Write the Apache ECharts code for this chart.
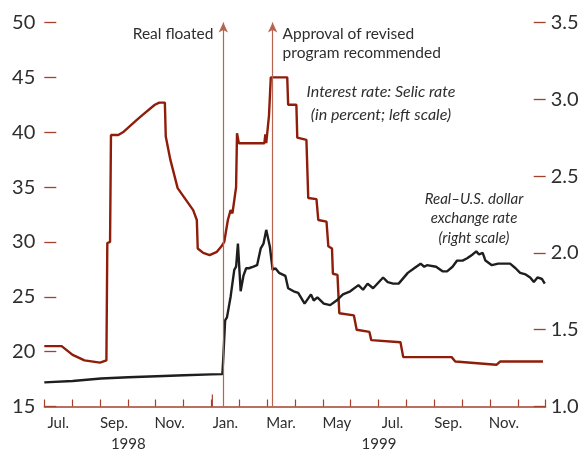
<!DOCTYPE html>
<html>
<head>
<meta charset="utf-8">
<script src="https://cdn.jsdelivr.net/npm/echarts@6.0.0/dist/echarts.min.js"></script>
<style>
html, body { margin: 0; padding: 0; background: #fff; }
#chart { width: 581px; height: 451px; }
</style>
</head>
<body>
<div id="chart"></div>
<script>
// month labels along the bottom (Jul 1998 - Dec 1999)
const monthLabels = ['Jul.', 'Aug.', 'Sep.', 'Oct.', 'Nov.', 'Dec.', 'Jan.', 'Feb.', 'Mar.', 'Apr.', 'May', 'Jun.',
	'Jul.', 'Aug.', 'Sep.', 'Oct.', 'Nov.', 'Dec.']
const yearLabels = ['1998', '1999']
const yearSpans = [['1998-07-01', '1999-01-01'], ['1999-01-01', '2000-01-01']]

// Selic rate, percent (left scale)
const selicDates = ['1998-07-01', '1998-07-20', '1998-08-01', '1998-08-14', '1998-08-31', '1998-09-07', '1998-09-08',
	'1998-09-11', '1998-09-12', '1998-09-20', '1998-09-26', '1998-10-10', '1998-10-17', '1998-10-30', '1998-11-04',
	'1998-11-10', '1998-11-11', '1998-11-16', '1998-11-24', '1998-12-11', '1998-12-15', '1998-12-16', '1998-12-22',
	'1998-12-29', '1999-01-06', '1999-01-11', '1999-01-14', '1999-01-18', '1999-01-21', '1999-01-23', '1999-01-25',
	'1999-01-27', '1999-01-28', '1999-01-30', '1999-02-27', '1999-02-28', '1999-03-01', '1999-03-04', '1999-03-06',
	'1999-03-24', '1999-03-25', '1999-04-03', '1999-04-04', '1999-04-14', '1999-04-16', '1999-04-25', '1999-04-27',
	'1999-05-06', '1999-05-08', '1999-05-12', '1999-05-13', '1999-05-18', '1999-05-20', '1999-06-05', '1999-06-08',
	'1999-06-22', '1999-06-24', '1999-07-26', '1999-07-29', '1999-09-20', '1999-09-24', '1999-11-08', '1999-11-12',
	'1999-12-29']
const selicValues = [20.5, 20.5, 19.7, 19.2, 19.0, 19.2, 29.9,
	30.0, 39.75, 39.75, 40.05, 41.1, 41.6, 42.5, 42.7,
	42.7, 39.6, 37.5, 34.9, 32.9, 32.0, 29.4, 29.0,
	28.8, 29.1, 29.6, 30.0, 32.0, 32.9, 32.6, 33.8,
	35.0, 39.9, 39.0, 39.0, 39.8, 39.0, 41.5, 45.0,
	45.0, 42.5, 42.5, 39.5, 39.3, 34.0, 33.9, 32.0,
	31.85, 29.6, 29.4, 27.1, 27.0, 23.5, 23.3, 22.0,
	21.8, 21.05, 20.85, 19.5, 19.5, 19.1, 18.8, 19.1,
	19.1]

// real per U.S. dollar (right scale)
const fxDates = ['1998-07-01', '1998-08-01', '1998-09-01', '1998-10-01', '1998-11-01', '1998-12-01', '1998-12-31',
	'1999-01-12', '1999-01-13', '1999-01-15', '1999-01-17', '1999-01-21', '1999-01-25', '1999-01-27', '1999-01-29',
	'1999-02-01', '1999-02-04', '1999-02-07', '1999-02-10', '1999-02-15', '1999-02-19', '1999-02-23', '1999-02-26',
	'1999-03-01', '1999-03-02', '1999-03-03', '1999-03-05', '1999-03-08', '1999-03-11', '1999-03-15', '1999-03-22',
	'1999-03-25', '1999-03-31', '1999-04-05', '1999-04-12', '1999-04-19', '1999-04-22', '1999-04-26', '1999-05-03',
	'1999-05-10', '1999-05-17', '1999-05-24', '1999-06-01', '1999-06-10', '1999-06-15', '1999-06-20', '1999-06-26',
	'1999-07-07', '1999-07-12', '1999-07-18', '1999-07-24', '1999-08-03', '1999-08-10', '1999-08-17', '1999-08-21',
	'1999-08-24', '1999-09-03', '1999-09-10', '1999-09-15', '1999-09-21', '1999-09-26', '1999-10-02', '1999-10-07',
	'1999-10-13', '1999-10-17', '1999-10-20', '1999-10-24', '1999-10-27', '1999-11-03', '1999-11-10', '1999-11-23',
	'1999-11-29', '1999-12-04', '1999-12-10', '1999-12-15', '1999-12-19', '1999-12-23', '1999-12-28', '1999-12-31']
const fxValues = [1.157, 1.166, 1.182, 1.19, 1.197, 1.203, 1.209,
	1.211, 1.32, 1.56, 1.58, 1.715, 1.89, 1.91, 2.06,
	1.75, 1.85, 1.9, 1.9, 1.91, 1.92, 2.03, 2.06,
	2.15, 2.16, 2.14, 2.04, 1.89, 1.9, 1.87, 1.85,
	1.77, 1.75, 1.74, 1.67, 1.73, 1.69, 1.71, 1.67,
	1.66, 1.69, 1.73, 1.75, 1.79, 1.76, 1.8, 1.77,
	1.84, 1.81, 1.8, 1.8, 1.87, 1.9, 1.93, 1.91,
	1.92, 1.91, 1.88, 1.88, 1.91, 1.95, 1.95, 1.965,
	1.99, 2.01, 1.99, 2.0, 1.95, 1.92, 1.93, 1.93,
	1.9, 1.87, 1.86, 1.84, 1.81, 1.84, 1.83, 1.8]

// event markers
const eventDates = ['1999-01-13', '1999-03-08']

const RED = '#8e1d0a'
const AXIS_RED = '#a3412d'
const MARK = '#b5644f'
const FONT = 'Lato, "DejaVu Sans", sans-serif'

const t = s => new Date(s + 'T00:00:00').getTime()

const chart = echarts.init(document.getElementById('chart'))

const options = {
	animation: false,
	backgroundColor: '#fff',
	grid: {
		left: 44.3,
		right: 35.3,
		top: 22.5,
		bottom: 44.5,
		containLabel: false,
		outerBoundsMode: 'none'
	},
	xAxis: [
		{
			type: 'time',
			min: t('1998-07-01'),
			max: t('2000-01-01'),
			show: false
		},
		{
			type: 'category',
			position: 'bottom',
			data: monthLabels,
			boundaryGap: true,
			axisLine: { show: true, lineStyle: { color: AXIS_RED, width: 1.5 } },
			axisTick: { show: true, inside: true, length: 7, interval: 0, lineStyle: { color: AXIS_RED, width: 1.2 } },
			axisLabel: { interval: 1, margin: 9, color: '#2e2e2e', fontSize: 15, fontFamily: FONT },
			splitLine: { show: false }
		}
	],
	yAxis: [
		{
			type: 'value',
			position: 'left',
			min: 15,
			max: 50,
			interval: 5,
			axisLine: { show: false },
			axisTick: { show: true, inside: true, length: 12, lineStyle: { color: AXIS_RED, width: 1.3 } },
			axisLabel: { margin: 9, color: '#2e2e2e', fontSize: 20, fontFamily: FONT },
			splitLine: { show: false }
		},
		{
			type: 'value',
			position: 'right',
			min: 1,
			max: 3.5,
			interval: 0.5,
			axisLine: { show: false },
			axisTick: { show: true, inside: true, length: 12, lineStyle: { color: AXIS_RED, width: 1.3 } },
			axisLabel: {
				margin: 5,
				color: '#2e2e2e',
				fontSize: 20,
				fontFamily: FONT,
				formatter: v => v.toFixed(1)
			},
			splitLine: { show: false }
		}
	],
	series: [
		{
			name: 'Selic',
			type: 'line',
			xAxisIndex: 0,
			yAxisIndex: 0,
			data: selicDates.map((d, i) => [t(d), selicValues[i]]),
			showSymbol: false,
			lineStyle: { color: RED, width: 2.4 },
			itemStyle: { color: RED },
			z: 3
		},
		{
			name: 'FX',
			type: 'line',
			xAxisIndex: 0,
			yAxisIndex: 1,
			data: fxDates.map((d, i) => [t(d), fxValues[i]]),
			showSymbol: false,
			lineStyle: { color: '#1e1e1e', width: 2.4 },
			itemStyle: { color: '#1e1e1e' },
			z: 4,
			markLine: {
				silent: true,
				symbol: ['none', 'arrow'],
				symbolSize: [7, 10],
				label: { show: false },
				lineStyle: { color: MARK, width: 1.2, type: 'solid' },
				data: eventDates.map(d => [{ coord: [t(d), 1] }, { coord: [t(d), 3.5] }])
			}
		}
	]
}
chart.setOption(options)

// annotations placed through the axes
const px = d => chart.convertToPixel({ xAxisIndex: 0 }, t(d))
const x0 = px(eventDates[0])
const x1 = px(eventDates[1])
const axisY = chart.convertToPixel({ yAxisIndex: 0 }, 15)
const boundary = px('1999-01-01')

const graphics = [
	{
		type: 'text',
		style: { text: 'Real floated', x: x0 - 10, y: 34, align: 'right', verticalAlign: 'middle',
			fontSize: 15.5, fontFamily: FONT, fill: '#2e2e2e' }
	},
	{
		type: 'text',
		style: { text: 'Approval of revised\nprogram recommended', x: x1 + 10, y: 43.5, align: 'left', verticalAlign: 'middle',
			fontSize: 15.5, lineHeight: 19, fontFamily: FONT, fill: '#2e2e2e' }
	},
	{
		type: 'text',
		style: { text: 'Interest rate: Selic rate\n(in percent; left scale)', x: 381, y: 103.5, align: 'center',
			verticalAlign: 'middle', fontSize: 16, fontStyle: 'italic', lineHeight: 23, fontFamily: FONT, fill: '#2e2e2e' }
	},
	{
		type: 'text',
		style: { text: 'Real\u2013U.S. dollar\nexchange rate\n(right scale)', x: 474, y: 218.5, align: 'center',
			verticalAlign: 'middle', fontSize: 15, fontStyle: 'italic', lineHeight: 19.5, fontFamily: FONT, fill: '#2e2e2e' }
	},
	{
		type: 'line',
		shape: { x1: boundary, y1: axisY - 12, x2: boundary, y2: axisY },
		style: { stroke: AXIS_RED, lineWidth: 1.2 }
	}
]
yearSpans.forEach((s, i) => {
	graphics.push({
		type: 'text',
		style: { text: yearLabels[i], x: (px(s[0]) + px(s[1])) / 2, y: 444, align: 'center', verticalAlign: 'middle',
			fontSize: 15, fontFamily: FONT, fill: '#2e2e2e' }
	})
})
chart.setOption({ graphic: graphics })
</script>
</body>
</html>
